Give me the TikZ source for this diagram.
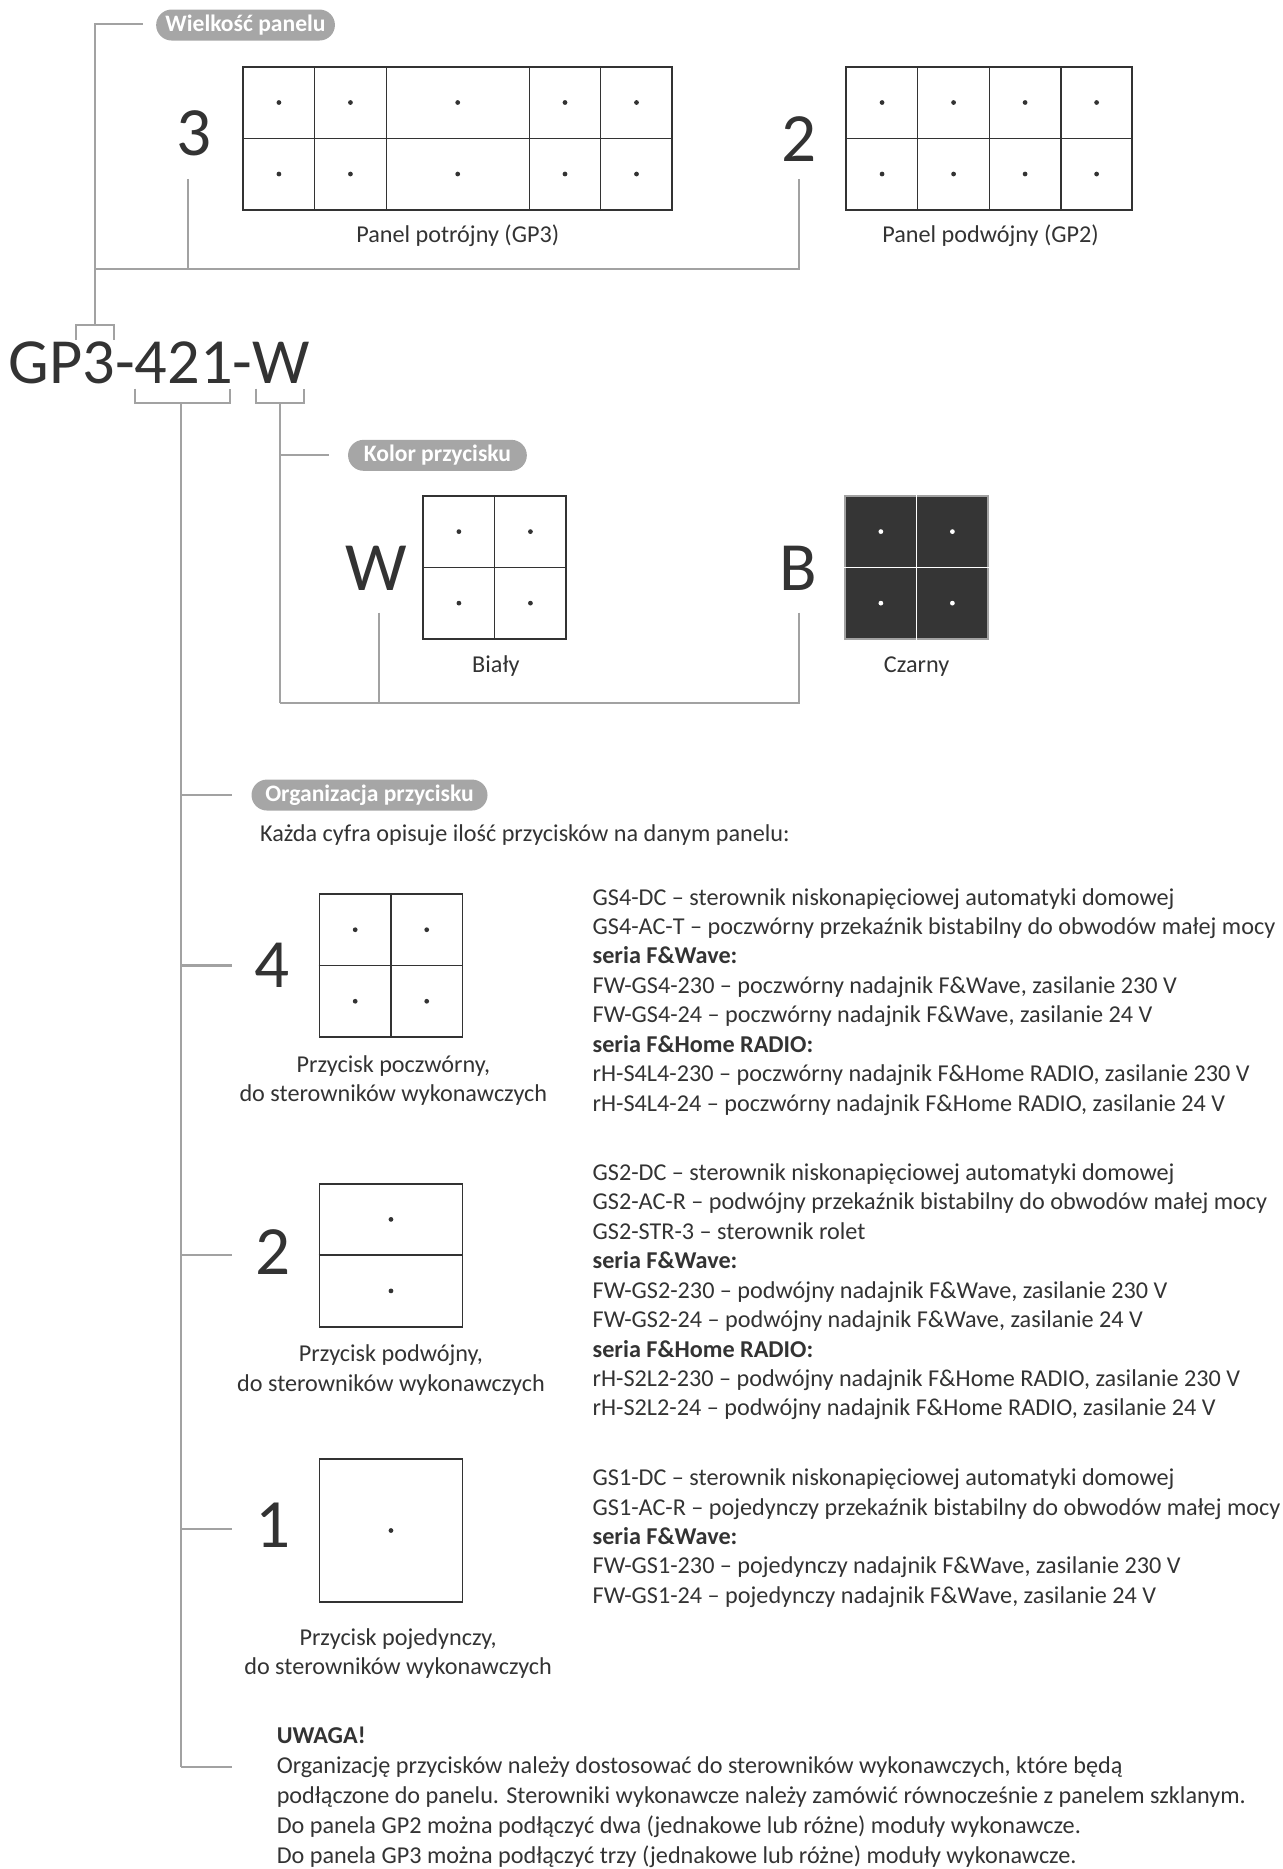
\documentclass[tikz,border=0pt]{standalone}
\usepackage{fontspec}
\setmainfont{Carlito}
\usepackage{xcolor}
\usepackage{tikz}
\usetikzlibrary{positioning,calc}
\definecolor{inkGray}{HTML}{333333}
\definecolor{wireGray}{HTML}{A2A2A2}
\definecolor{tagGray}{HTML}{A6A6A6}
\definecolor{keyBlack}{HTML}{353535}

\begin{document}
\begin{tikzpicture}[
    x=1pt,y=-1pt,
    every node/.style={text=inkGray,inner sep=0pt,
                       font=\fontsize{20.3}{24.7}\selectfont},
    wire/.style={draw=wireGray,line width=1.7pt},
    tag/.style={fill=tagGray,rounded corners=13pt,
                minimum height=26pt,minimum width=150pt,
                text=white,font=\fontsize{19.8}{21}\selectfont\bfseries},
    panel/.style={draw=inkGray,line width=1.5pt,fill=white},
    darkpanel/.style={draw=wireGray,line width=1.5pt,fill=keyBlack},
    grid/.style={draw=inkGray,line width=1.1pt},
    darkgrid/.style={draw=white,line width=1.1pt},
    digit/.style={font=\fontsize{58}{60}\selectfont},
    caption/.style={align=center},
    spec/.style={anchor=north west,align=left}
  ]
  \useasboundingbox (0,0) rectangle (1076,1568);

  %% Panel size
  \node[tag] (sizeTag) at (206,21) {Wielkość panelu};
  \node[digit] (three) at (163,112) {3};
  \node[digit] (two) at (670,117) {2};
  \node[panel,minimum width=360pt,minimum height=120pt] (gp3) at (384,116) {};
  \foreach \x in {264,324,444,504}
    \draw[grid] (\x,56) -- (\x,176);
  \draw[grid] (gp3.west) -- (gp3.east);
  \foreach \x in {234,294,384,474,534}
    \foreach \y in {86,146}
      \fill[inkGray] (\x,\y) circle (2);
  \node (gp3cap) at (384,198) {Panel potrójny (GP3)};
  \node[panel,minimum width=240pt,minimum height=120pt] (gp2) at (830,116) {};
  \foreach \x in {770,830,890}
    \draw[grid] (\x,56) -- (\x,176);
  \draw[grid] (gp2.west) -- (gp2.east);
  \foreach \x in {740,800,860,920}
    \foreach \y in {86,146}
      \fill[inkGray] (\x,\y) circle (2);
  \node (gp2cap) at (831,198) {Panel podwójny (GP2)};

  %% Code
  \node[anchor=base west,font=\fontsize{54}{56}\selectfont] (code) at (7,322) {GP3-421-W};

  \coordinate (sizeKnot) at (80,273);
  \coordinate (sizeStub) at (120,20);
  \coordinate (sizeBus) at (80,226);
  \coordinate (gp3Leg) at (158,150);
  \coordinate (gp2Leg) at (670,150);
  \draw[wire] (sizeKnot) |- (sizeStub);
  \draw[wire] (gp3Leg) |- (sizeBus);
  \draw[wire] (gp2Leg) |- (sizeBus);
  \draw[wire] (64,285) -- (64,273) -- (96,273) -- (96,285);

  \coordinate (orgKnot) at (152,338);
  \coordinate (colKnot) at (235,338);
  \draw[wire] (113,326) -- (113,338) -- (193,338) -- (193,326);
  \draw[wire] (215,326) -- (215,338) -- (255,338) -- (255,326);

  %% Button colour
  \node[tag] (colTag) at (367,382) {Kolor przycisku};
  \draw[wire] (colKnot |- colTag.west) -- (276,382);
  \node[digit] (wLetter) at (316,477) {W};
  \node[digit] (bLetter) at (670,477) {B};
  \node[panel,minimum width=120pt,minimum height=120pt] (white) at (415,476) {};
  \draw[grid] (white.north) -- (white.south);
  \draw[grid] (white.west) -- (white.east);
  \node[darkpanel,minimum width=120pt,minimum height=120pt] (black) at (769,476) {};
  \draw[darkgrid] (black.north) -- (black.south);
  \draw[darkgrid] (black.west) -- (black.east);
  \foreach \x in {385,445}
    \foreach \y in {446,506}
      \fill[inkGray] (\x,\y) circle (2);
  \foreach \x in {739,799}
    \foreach \y in {446,506}
      \fill[white] (\x,\y) circle (2);
  \node (whitecap) at (416,559) {Biały};
  \node (blackcap) at (769,559) {Czarny};

  \coordinate (colBus) at (235,590);
  \coordinate (wLeg) at (318,514);
  \coordinate (bLeg) at (670,514);
  \draw[wire] (colKnot) -- (colBus);
  \draw[wire] (bLeg) |- (colBus);
  \draw[wire] (wLeg) -- (wLeg |- colBus);

  %% Button layout
  \node[tag,minimum width=198pt] (orgTag) at (310,667) {Organizacja przycisku};
  \node[anchor=west] (orgNote) at (218,701) {Każda cyfra opisuje ilość przycisków na danym panelu:};

  \node[digit] (four) at (228,810) {4};
  \node[panel,minimum width=120pt,minimum height=120pt] (p4) at (328,810) {};
  \draw[grid] (p4.north) -- (p4.south);
  \draw[grid] (p4.west) -- (p4.east);
  \foreach \x in {298,358}
    \foreach \y in {780,840}
      \fill[inkGray] (\x,\y) circle (2);
  \node[caption] (p4cap) at (330,906.5) {Przycisk poczwórny,\\do sterowników wykonawczych};
  \node[spec] (spec4) at (497,745) {GS4-DC – sterownik niskonapięciowej automatyki domowej\\
    GS4-AC-T – poczwórny przekaźnik bistabilny do obwodów małej mocy\\
    \textbf{seria F\&Wave:}\\
    FW-GS4-230 – poczwórny nadajnik F\&Wave, zasilanie 230 V\\
    FW-GS4-24 – poczwórny nadajnik F\&Wave, zasilanie 24 V\\
    \textbf{seria F\&Home RADIO:}\\
    rH-S4L4-230 – poczwórny nadajnik F\&Home RADIO, zasilanie 230 V\\
    rH-S4L4-24 – poczwórny nadajnik F\&Home RADIO, zasilanie 24 V};

  \node[digit] (twoB) at (229,1050) {2};
  \node[panel,minimum width=120pt,minimum height=120pt] (p2) at (328,1053) {};
  \draw[grid] (p2.west) -- (p2.east);
  \foreach \y in {1023,1083}
    \fill[inkGray] (328,\y) circle (2);
  \node[caption] (p2cap) at (328,1149.5) {Przycisk podwójny,\\do sterowników wykonawczych};
  \node[spec] (spec2) at (497,976) {GS2-DC – sterownik niskonapięciowej automatyki domowej\\
    GS2-AC-R – podwójny przekaźnik bistabilny do obwodów małej mocy\\
    GS2-STR-3 – sterownik rolet\\
    \textbf{seria F\&Wave:}\\
    FW-GS2-230 – podwójny nadajnik F\&Wave, zasilanie 230 V\\
    FW-GS2-24 – podwójny nadajnik F\&Wave, zasilanie 24 V\\
    \textbf{seria F\&Home RADIO:}\\
    rH-S2L2-230 – podwójny nadajnik F\&Home RADIO, zasilanie 230 V\\
    rH-S2L2-24 – podwójny nadajnik F\&Home RADIO, zasilanie 24 V};

  \node[digit] (one) at (229,1280) {1};
  \node[panel,minimum width=120pt,minimum height=120pt] (p1) at (328,1284) {};
  \fill[inkGray] (p1.center) circle (2);
  \node[caption] (p1cap) at (334,1387) {Przycisk pojedynczy,\\do sterowników wykonawczych};
  \node[spec] (spec1) at (497,1232) {GS1-DC – sterownik niskonapięciowej automatyki domowej\\
    GS1-AC-R – pojedynczy przekaźnik bistabilny do obwodów małej mocy\\
    \textbf{seria F\&Wave:}\\
    FW-GS1-230 – pojedynczy nadajnik F\&Wave, zasilanie 230 V\\
    FW-GS1-24 – pojedynczy nadajnik F\&Wave, zasilanie 24 V};

  \node[spec,font=\fontsize{20.3}{25}\selectfont] (warn) at (232,1449) {\textbf{UWAGA!}\\
    Organizację przycisków należy dostosować do sterowników wykonawczych, które będą\\
    podłączone do panelu. Sterowniki wykonawcze należy zamówić równocześnie z panelem szklanym.\\
    Do panela GP2 można podłączyć dwa (jednakowe lub różne) moduły wykonawcze.\\
    Do panela GP3 można podłączyć trzy (jednakowe lub różne) moduły wykonawcze.};

  \coordinate (orgFoot) at (152,1482);
  \draw[wire] (orgKnot) -- (orgFoot);
  \foreach \y in {667,810,1053,1283,1482}
    \draw[wire] (orgKnot |- 0,\y) -- (195,\y);
\end{tikzpicture}
\end{document}
